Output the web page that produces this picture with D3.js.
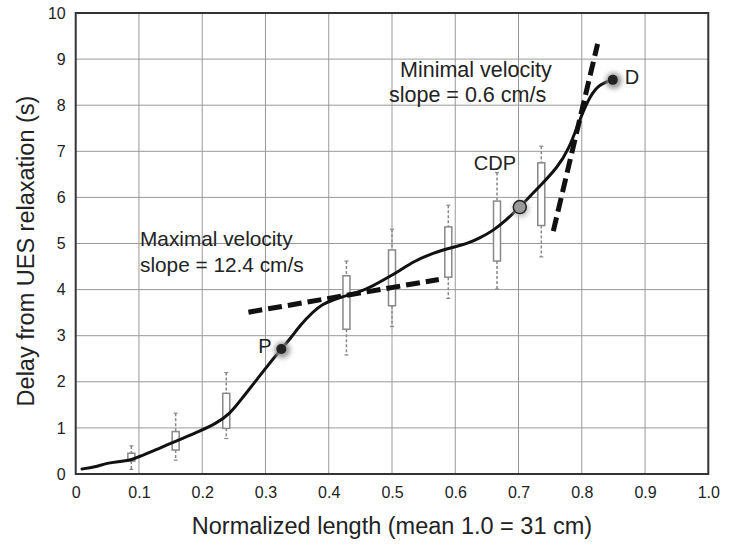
<!DOCTYPE html>
<html><head><meta charset="utf-8">
<script src="https://cdn.jsdelivr.net/npm/d3@7"></script>
<style>body{margin:0;background:#fff}svg{display:block}text{font-family:"Liberation Sans",Arial,sans-serif;fill:#222}</style>
</head><body>
<svg id="c" width="729" height="547"></svg>
<script>
// Curve (normalized length, delay s)
const curveX = [0.01,0.03,0.05,0.07,0.09,0.10,0.12,0.144,0.17,0.196,0.22,0.244,0.265,0.286,0.305,0.325,0.34,0.355,0.375,0.39,0.407,0.43,0.449,0.47,0.492,0.513,0.533,0.565,0.597,0.62,0.639,0.66,0.68,0.702,0.72,0.734,0.761,0.78,0.797,0.813,0.828,0.849];
const curveY = [0.11,0.15,0.24,0.27,0.31,0.38,0.48,0.63,0.78,0.93,1.08,1.30,1.68,2.04,2.38,2.71,2.95,3.23,3.52,3.68,3.78,3.88,3.95,4.08,4.25,4.42,4.60,4.80,4.92,5.00,5.12,5.28,5.50,5.79,6.05,6.25,6.64,7.05,7.70,8.20,8.46,8.55];
// Box plots
const boxX   = [0.088,0.158,0.238,0.428,0.500,0.589,0.666,0.736];
const boxMin = [0.10,0.30,0.77,2.58,3.20,3.81,4.01,4.71];
const boxQ1  = [0.28,0.52,0.99,3.14,3.65,4.27,4.62,5.39];
const boxQ3  = [0.45,0.92,1.75,4.30,4.86,5.36,5.92,6.75];
const boxMax = [0.61,1.32,2.20,4.62,5.31,5.83,6.54,7.11];
// Tangent lines
const tangentMax = [[0.273,3.51],[0.574,4.22]];
const tangentMin = [[0.755,5.27],[0.825,9.33]];
// Landmarks
const markerNames = ["P","CDP","D"];
const markerX = [0.325,0.702,0.849];
const markerY = [2.71,5.79,8.55];
const xTicks = [0,0.1,0.2,0.3,0.4,0.5,0.6,0.7,0.8,0.9,1.0];
const xTickLabels = ["0","0.1","0.2","0.3","0.4","0.5","0.6","0.7","0.8","0.9","1.0"];
const yTicks = [0,1,2,3,4,5,6,7,8,9,10];

const svg = d3.select("#c");
const L=75.7,R=708.3,T=13,B=474;
const x = d3.scaleLinear().domain([0,1]).range([L,R]);
const y = d3.scaleLinear().domain([0,10]).range([B,T]);

const defs = svg.append("defs");
const f = defs.append("filter").attr("id","glow").attr("x","-100%").attr("y","-100%").attr("width","300%").attr("height","300%");
f.append("feGaussianBlur").attr("stdDeviation",2.5);

// grid
svg.append("g").selectAll("line").data(xTicks.slice(1,-1)).join("line")
  .attr("x1",d=>x(d)).attr("x2",d=>x(d)).attr("y1",T).attr("y2",B)
  .attr("stroke","#999").attr("stroke-width",1);
svg.append("g").selectAll("line").data(yTicks.slice(1,-1)).join("line")
  .attr("x1",L).attr("x2",R).attr("y1",d=>y(d)).attr("y2",d=>y(d))
  .attr("stroke","#999").attr("stroke-width",1);

// axes
const xAxis = svg.append("g").attr("transform",`translate(0,${B})`)
  .call(d3.axisBottom(x).tickValues(xTicks).tickFormat((d,i)=>xTickLabels[i]).tickSize(0).tickPadding(10));
const yAxis = svg.append("g").attr("transform",`translate(${L},0)`)
  .call(d3.axisLeft(y).tickValues(yTicks).tickFormat(d3.format("d")).tickSize(0).tickPadding(10));
[xAxis,yAxis].forEach(a=>{a.select(".domain").remove();a.selectAll("text").attr("font-size",16).attr("fill","#222").attr("font-family","Liberation Sans, Arial, sans-serif");});
xAxis.selectAll("text").attr("dy","0.9em");

svg.append("rect").attr("x",L).attr("y",T).attr("width",R-L).attr("height",B-T)
  .attr("fill","none").attr("stroke","#333").attr("stroke-width",2);

// box plots
const bw = 7;
const bg = svg.append("g");
boxX.forEach((bx,i)=>{
  const cx = x(bx);
  bg.append("line").attr("x1",cx).attr("x2",cx).attr("y1",y(boxMax[i])).attr("y2",y(boxQ3[i]))
    .attr("stroke","#888").attr("stroke-width",1.5).attr("stroke-dasharray","3,2");
  bg.append("line").attr("x1",cx).attr("x2",cx).attr("y1",y(boxQ1[i])).attr("y2",y(boxMin[i]))
    .attr("stroke","#888").attr("stroke-width",1.5).attr("stroke-dasharray","3,2");
  [boxMax[i],boxMin[i]].forEach(v=>bg.append("line").attr("x1",cx-2).attr("x2",cx+2).attr("y1",y(v)).attr("y2",y(v)).attr("stroke","#888").attr("stroke-width",1.2));
  bg.append("rect").attr("x",cx-bw/2).attr("y",y(boxQ3[i])).attr("width",bw).attr("height",y(boxQ1[i])-y(boxQ3[i]))
    .attr("fill","#fff").attr("stroke","#888").attr("stroke-width",1.5);
});

// curve
const pts = curveX.map((d,i)=>[d,curveY[i]]);
svg.append("path").datum(pts)
  .attr("d",d3.line().x(d=>x(d[0])).y(d=>y(d[1])).curve(d3.curveBasis))
  .attr("fill","none").attr("stroke","#111").attr("stroke-width",3).attr("stroke-linecap","round");

// tangents
[tangentMax,tangentMin].forEach(t=>{
  svg.append("line").attr("x1",x(t[0][0])).attr("y1",y(t[0][1])).attr("x2",x(t[1][0])).attr("y2",y(t[1][1]))
    .attr("stroke","#111").attr("stroke-width",5).attr("stroke-dasharray","14,6");
});

// markers
markerNames.forEach((n,i)=>{
  const cx=x(markerX[i]), cy=y(markerY[i]);
  if(n==="CDP"){
    svg.append("circle").attr("cx",cx+1).attr("cy",cy+2).attr("r",8).attr("fill","#bbb").attr("filter","url(#glow)");
    svg.append("circle").attr("cx",cx).attr("cy",cy).attr("r",6.5).attr("fill","#999").attr("stroke","#222").attr("stroke-width",1.5);
  } else {
    svg.append("circle").attr("cx",cx+1).attr("cy",cy+1).attr("r",8).attr("fill","#999").attr("filter","url(#glow)");
    svg.append("circle").attr("cx",cx).attr("cy",cy).attr("r",5).attr("fill","#222");
  }
});

// labels
const lab=(t,xx,yy,fs,anchor)=>svg.append("text").attr("x",xx).attr("y",yy).attr("font-size",fs).attr("text-anchor",anchor||"start").text(t);
lab("P",x(markerX[0])-23,353,20);
lab("CDP",x(markerX[1])-46,170,20);
lab("D",x(markerX[2])+12,84,20);
lab("Maximal velocity",140,246,20.8);
lab("slope = 12.4 cm/s",140,271.5,20.8);
lab("Minimal velocity",400,77,21.5);
lab("slope = 0.6 cm/s",389,102,21.5);

// axis titles
svg.append("text").attr("x",(L+R)/2).attr("y",534).attr("text-anchor","middle").attr("font-size",23.5)
  .text("Normalized length (mean 1.0 = 31 cm)");
svg.append("text").attr("transform","translate(34,251) rotate(-90)").attr("text-anchor","middle").attr("font-size",23.5)
  .text("Delay from UES relaxation (s)");
</script>
</body></html>
